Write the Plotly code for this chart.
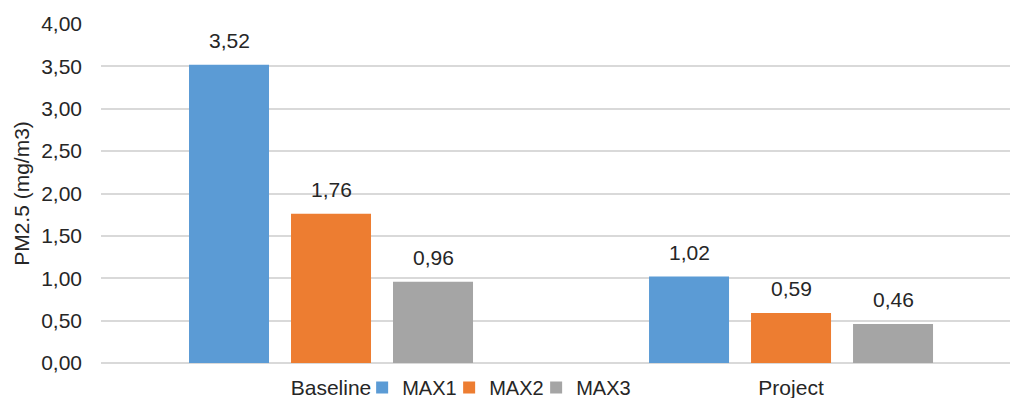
import plotly.graph_objects as go

# PM2.5 maxima per scenario
categories = ["Baseline", "Project"]
series_names = ["MAX1", "MAX2", "MAX3"]
max1 = [3.52, 1.02]
max2 = [1.76, 0.59]
max3 = [0.96, 0.46]
series_values = [max1, max2, max3]
series_colors = ["#5B9BD5", "#ED7D31", "#A5A5A5"]
y_ticks = [0, 0.5, 1, 1.5, 2, 2.5, 3, 3.5, 4]

FONT = "Liberation Sans, Arial, sans-serif"
TEXT = "#262626"
FS = 21

fig = go.Figure()
for name, vals, col in zip(series_names, series_values, series_colors):
    fig.add_trace(go.Bar(
        x=categories, y=vals, name=name,
        marker=dict(color=col, line=dict(width=0)),
    ))

# blank trailing legend slot so the last compact entry is not cut off
fig.add_trace(go.Scatter(
    x=[None], y=[None], name="", mode="markers",
    marker=dict(color="rgba(0,0,0,0)"), hoverinfo="skip",
))

# value labels above each bar
offsets = [-102, 0, 102]
annotations = []
for vals, dx in zip(series_values, offsets):
    for cat, v in zip(categories, vals):
        annotations.append(dict(
            x=cat, y=v, xref="x", yref="y",
            text=f"{v:.2f}".replace(".", ","),
            showarrow=False, xanchor="center", yanchor="bottom",
            xshift=dx, yshift=11,
            font=dict(family=FONT, size=FS, color=TEXT),
        ))

fig.update_layout(
    width=1010, height=398,
    margin=dict(l=101, r=0, t=24, b=35, autoexpand=False),
    paper_bgcolor="white", plot_bgcolor="white",
    separators=", ",
    barmode="group",
    bargap=0.3348,
    bargroupgap=0.2157,
    font=dict(family=FONT, size=FS, color=TEXT),
    annotations=annotations,
    showlegend=True,
    legend=dict(
        orientation="h",
        x=0.4787, xanchor="center",
        y=-0.072, yanchor="middle",
        font=dict(family=FONT, size=20, color=TEXT),
        itemwidth=30,
        entrywidth=42, entrywidthmode="pixels",
        bgcolor="rgba(0,0,0,0)",
        traceorder="normal",
    ),
    xaxis=dict(
        range=[-0.5, 1.476],
        showgrid=False, showline=False, zeroline=False,
        ticks="", ticklabelstandoff=10,
        tickfont=dict(family=FONT, size=FS, color=TEXT),
        fixedrange=True,
    ),
    yaxis=dict(
        range=[0, 4],
        tickvals=y_ticks, tickformat=".2f",
        showgrid=True, gridcolor="#D9D9D9", gridwidth=1.5,
        zeroline=True, zerolinecolor="#D9D9D9", zerolinewidth=2,
        showline=False, ticks="", ticklabelstandoff=18,
        tickfont=dict(family=FONT, size=FS, color=TEXT),
        title=dict(text="PM2.5 (mg/m3)", standoff=5,
                   font=dict(family=FONT, size=FS, color=TEXT)),
        automargin=False,
        fixedrange=True,
    ),
)

fig.write_html("out.html")
